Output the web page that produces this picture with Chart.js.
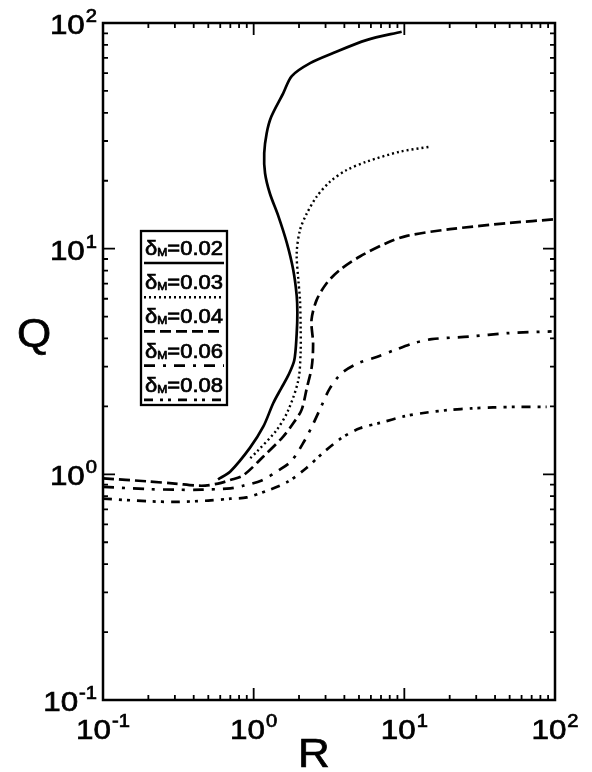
<!DOCTYPE html>
<html>
<head>
<meta charset="utf-8">
<script src="https://cdn.jsdelivr.net/npm/chart.js@4.4.1/dist/chart.umd.min.js"></script>
<style>
  body { margin: 0; background: #fff; }
  #wrap { position: relative; width: 592px; height: 772px; }
</style>
</head>
<body>
<div id="wrap"><canvas id="myChart"></canvas></div>
<script>
// Q versus R, one curve per delta_M
const deltaLabels = ['0.02', '0.03', '0.04', '0.06', '0.08'];

const r002 = [0.58, 0.70, 0.944, 1.16, 1.35, 1.52, 1.70, 1.86, 1.93, 1.95, 1.93, 1.83, 1.66, 1.46, 1.28, 1.19, 1.175, 1.22, 1.31, 1.57, 1.79, 2.37, 3.37, 5.6, 9.6];
const q002 = [0.95, 1.03, 1.31, 1.63, 2.07, 2.40, 2.75, 3.2, 4.2, 5.2, 6.2, 8.06, 10.6, 13.9, 17.6, 21.6, 26.5, 32.5, 38.5, 48.8, 58.2, 66.4, 73.6, 84, 91.5];

const r003 = [0.95, 1.05, 1.42, 1.70, 1.98, 2.05, 2.05, 2.03, 1.98, 1.93, 2.03, 2.25, 2.62, 3.21, 4.14, 5.62, 9.36, 14.8];
const q003 = [1.18, 1.26, 1.57, 1.93, 2.62, 3.5, 4.5, 5.93, 7.26, 9.55, 12.1, 14.3, 17.0, 19.8, 22.3, 24.3, 26.9, 28.3];

const r004 = [0.1, 0.2, 0.3, 0.45, 0.58, 0.70, 0.853, 1.16, 1.57, 1.85, 2.08, 2.25, 2.43, 2.48, 2.42, 2.62, 3.05, 3.74, 5.07, 7.64, 10.4, 20.1, 50, 100];
const q004 = [0.96, 0.93, 0.91, 0.89, 0.91, 0.944, 0.99, 1.20, 1.47, 1.70, 1.93, 2.4, 3.0, 3.8, 4.83, 5.93, 7.03, 8.05, 9.23, 10.6, 11.4, 12.2, 13.0, 13.5];

const r006 = [0.1, 0.2, 0.3, 0.45, 0.7, 0.85, 1.13, 1.46, 1.79, 2.19, 2.49, 2.80, 3.21, 3.84, 4.94, 6.55, 8.67, 11.5, 15.2, 27.2, 47.8, 95];
const q006 = [0.88, 0.86, 0.855, 0.855, 0.867, 0.89, 0.94, 1.04, 1.15, 1.42, 1.68, 1.99, 2.41, 2.81, 3.11, 3.31, 3.56, 3.81, 3.97, 4.08, 4.22, 4.30];

const r008 = [0.1, 0.2, 0.3, 0.5, 0.7, 0.9, 1.25, 1.70, 2.25, 2.9, 3.84, 5.07, 6.89, 10.1, 14.1, 20.1, 28, 38.9, 55.6, 88];
const q008 = [0.78, 0.76, 0.755, 0.765, 0.78, 0.79, 0.85, 0.93, 1.07, 1.25, 1.45, 1.60, 1.69, 1.81, 1.88, 1.93, 1.96, 1.98, 1.99, 1.99];

const xTickExponents = [-1, 0, 1, 2];
const yTickExponents = [-1, 0, 1, 2];
const minorMultiples = [2, 3, 4, 5, 6, 7, 8, 9];

const seriesR = [r002, r003, r004, r006, r008];
const seriesQ = [q002, q003, q004, q006, q008];
const dashes = [[], [2, 3], [11, 5], [11, 8, 3, 8], [9, 7, 3, 5, 3, 7]];
const widths = [2.7, 2.4, 2.7, 2.7, 2.7];

const FONT = '"Liberation Sans", Arial, Helvetica, sans-serif';

function toPoints(rs, qs) {
    return rs.map((r, i) => ({ x: r, y: qs[i] }));
}

// text a little wider and heavier than the font, like the scanned lettering
function wideText(ctx, str, x, y, sx) {
    ctx.save();
    ctx.translate(x, y);
    ctx.scale(sx, 1);
    ctx.fillText(str, 0, 0);
    ctx.lineWidth = 0.7;
    ctx.strokeStyle = '#000';
    ctx.setLineDash([]);
    ctx.strokeText(str, 0, 0);
    ctx.restore();
    return ctx.measureText(str).width * sx;
}

// frame with inward ticks on all four sides
const framePlugin = {
    id: 'frame',
    afterDatasetsDraw(chart) {
        const { ctx, chartArea: a, scales: { x, y } } = chart;
        ctx.save();
        ctx.strokeStyle = '#000';
        ctx.lineWidth = 2.5;
        ctx.strokeRect(a.left, a.top, a.right - a.left, a.bottom - a.top);

        ctx.lineWidth = 1.8;
        const tickAt = (axis, v, len) => {
            ctx.beginPath();
            if (axis === 'x') {
                const px = x.getPixelForValue(v);
                ctx.moveTo(px, a.bottom); ctx.lineTo(px, a.bottom - len);
                ctx.moveTo(px, a.top); ctx.lineTo(px, a.top + len);
            } else {
                const py = y.getPixelForValue(v);
                ctx.moveTo(a.left, py); ctx.lineTo(a.left + len, py);
                ctx.moveTo(a.right, py); ctx.lineTo(a.right - len, py);
            }
            ctx.stroke();
        };
        xTickExponents.forEach((e, i) => {
            tickAt('x', Math.pow(10, e), 12);
            if (i < xTickExponents.length - 1) minorMultiples.forEach(m => tickAt('x', m * Math.pow(10, e), 5));
        });
        yTickExponents.forEach((e, i) => {
            tickAt('y', Math.pow(10, e), 12);
            if (i < yTickExponents.length - 1) minorMultiples.forEach(m => tickAt('y', m * Math.pow(10, e), 5));
        });

        // tick labels 10^n
        const SX = 1.12;
        const drawPow = (e, cx, baseY, align) => {
            ctx.font = '28px ' + FONT;
            const wb = ctx.measureText('10').width * SX;
            ctx.font = '18px ' + FONT;
            const exp = e < 0 ? '-' + Math.abs(e) : String(e);
            const we = ctx.measureText(exp).width * SX;
            const total = wb + we + 1;
            const left = align === 'center' ? cx - total / 2 : cx - total;
            ctx.textAlign = 'left';
            ctx.textBaseline = 'alphabetic';
            ctx.font = '28px ' + FONT;
            wideText(ctx, '10', left, baseY, SX);
            ctx.font = '18px ' + FONT;
            wideText(ctx, exp, left + wb + 1, baseY - 12, SX);
        };
        ctx.fillStyle = '#000';
        xTickExponents.forEach(e => drawPow(e, x.getPixelForValue(Math.pow(10, e)), 739, 'center'));
        yTickExponents.forEach(e => drawPow(e, a.left - 6, y.getPixelForValue(Math.pow(10, e)) + 11, 'right'));

        // axis titles
        ctx.font = '40px ' + FONT;
        ctx.textAlign = 'center';
        ctx.textBaseline = 'middle';
        wideText(ctx, 'R', 314, 756, 1.1);
        wideText(ctx, 'Q', 34, 336, 1.1);
        ctx.restore();
    }
};

// boxed legend with line samples under each label
const legendPlugin = {
    id: 'boxLegend',
    afterDatasetsDraw(chart) {
        const { ctx } = chart;
        const bx = 141, by = 231, bw = 86, bh = 174;
        ctx.save();
        ctx.fillStyle = '#fff';
        ctx.fillRect(bx, by, bw, bh);
        ctx.strokeStyle = '#000';
        ctx.lineWidth = 2.3;
        ctx.strokeRect(bx, by, bw, bh);
        ctx.fillStyle = '#000';
        ctx.textBaseline = 'alphabetic';
        ctx.textAlign = 'left';
        const SX = 1.1;
        deltaLabels.forEach((lab, i) => {
            const base = by + 24 + i * 34.2;
            let tx = bx + 4;
            ctx.font = '20px ' + FONT;
            tx += wideText(ctx, '\u03b4', tx, base, SX);
            ctx.font = '11px ' + FONT;
            tx += wideText(ctx, 'M', tx, base + 1, SX);
            ctx.font = '20px ' + FONT;
            wideText(ctx, '=' + lab, tx, base, SX);
            const ly = by + 32 + i * 34.2;
            ctx.beginPath();
            ctx.setLineDash(dashes[i]);
            ctx.lineWidth = widths[i];
            ctx.moveTo(bx + 3, ly);
            ctx.lineTo(bx + bw - 3, ly);
            ctx.stroke();
        });
        ctx.restore();
    }
};

const ctx = document.getElementById('myChart').getContext('2d');

new Chart(ctx, {
    type: 'scatter',
    data: {
        datasets: deltaLabels.map((lab, i) => ({
            label: 'δM=' + lab,
            data: toPoints(seriesR[i], seriesQ[i]),
            showLine: true,
            borderColor: '#000',
            borderWidth: widths[i],
            borderDash: dashes[i],
            pointRadius: 0,
            tension: 0.3,
            fill: false
        }))
    },
    options: {
        responsive: true,
        maintainAspectRatio: false,
        animation: false,
        layout: { padding: { left: 103, right: 37, top: 23, bottom: 72 } },
        plugins: { legend: { display: false }, tooltip: { enabled: false } },
        scales: {
            x: { type: 'logarithmic', min: 0.1, max: 100, display: false },
            y: { type: 'logarithmic', min: 0.1, max: 100, display: false }
        }
    },
    plugins: [framePlugin, legendPlugin]
});
</script>
</body>
</html>
